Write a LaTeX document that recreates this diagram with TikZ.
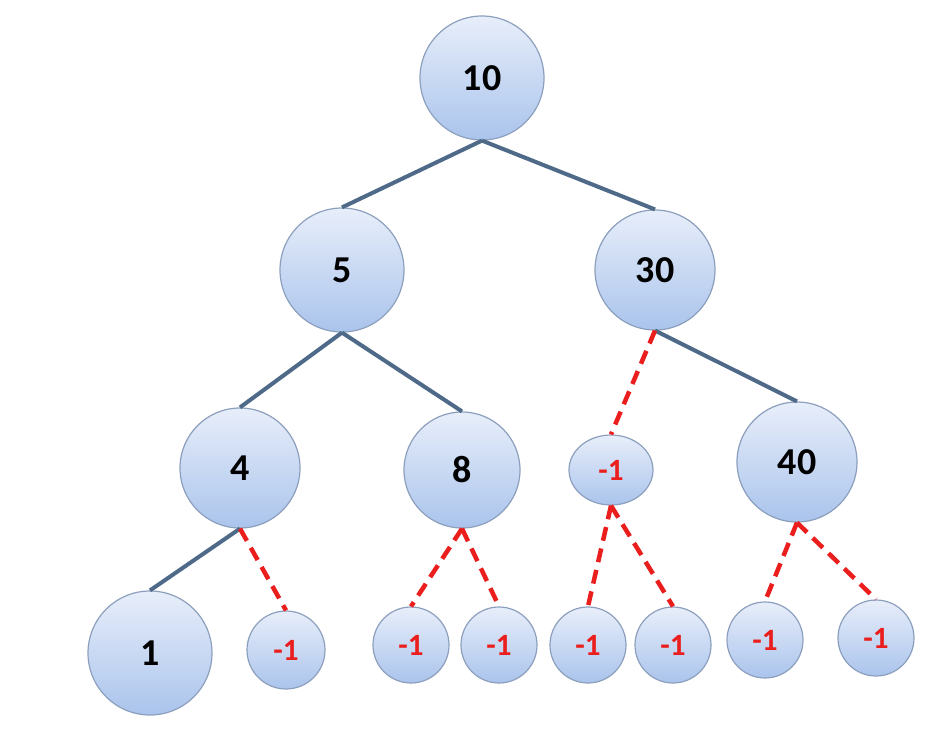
\documentclass[tikz,border=0pt]{standalone}
\usepackage{fontspec}
\setmainfont{Carlito}
\usetikzlibrary{shapes.geometric}
\definecolor{edgec}{RGB}{78,106,136}
\definecolor{bordc}{RGB}{140,160,190}
\definecolor{topc}{RGB}{232,238,250}
\definecolor{botc}{RGB}{170,196,236}
\definecolor{redc}{RGB}{235,30,30}
\begin{document}
\begin{tikzpicture}[x=1pt,y=-1pt,
  nd/.style={circle,draw=bordc,line width=1.2pt,top color=topc,bottom color=botc,minimum size=#1,inner sep=0pt,font=\bfseries\fontsize{38}{40}\selectfont},
  leaf/.style={nd=#1,text=redc,font=\bfseries\fontsize{31}{33}\selectfont},
  sol/.style={draw=edgec,line width=4pt},
  dsh/.style={draw=redc,line width=4.5pt,dash pattern=on 14pt off 8pt}]
\useasboundingbox[fill=white] (0,0) rectangle (946,744);
\node[nd=124pt] (n10) at (482,78) {10};
\node[nd=124pt] (n5) at (342,270) {5};
\node[nd=120pt] (n30) at (655,270) {30};
\node[nd=120pt] (n4) at (240,468) {4};
\node[nd=116pt] (n8) at (462,470) {8};
\node[leaf=70pt,ellipse,minimum width=84pt] (m1) at (611,470) {-1};
\node[nd=120pt] (n40) at (797,462) {40};
\node[nd=124pt] (n1) at (150,653) {1};
\node[leaf=78pt] (a) at (286,650) {-1};
\node[leaf=76pt] (b) at (411,645) {-1};
\node[leaf=76pt] (c) at (499,645) {-1};
\node[leaf=76pt] (d) at (588,645) {-1};
\node[leaf=76pt] (e) at (673,645) {-1};
\node[leaf=76pt] (f) at (765,640) {-1};
\node[leaf=76pt] (g) at (876,638) {-1};
\draw[sol] (n10.south) -- (n5.north);
\draw[sol] (n10.south) -- (n30.north);
\draw[sol] (n5.south) -- (n4.north);
\draw[sol] (n5.south) -- (n8.north);
\draw[sol] (n30.south) -- (n40.north);
\draw[sol] (n4.south) -- (n1.north);
\draw[dsh] (n30.south) -- (m1.north);
\draw[dsh] (n4.south) -- (a.north);
\draw[dsh] (n8.south) -- (b.north);
\draw[dsh] (n8.south) -- (c.north);
\draw[dsh] (m1.south) -- (d.north);
\draw[dsh] (m1.south) -- (e.north);
\draw[dsh] (n40.south) -- (f.north);
\draw[dsh] (n40.south) -- (g.north);
\end{tikzpicture}
\end{document}
